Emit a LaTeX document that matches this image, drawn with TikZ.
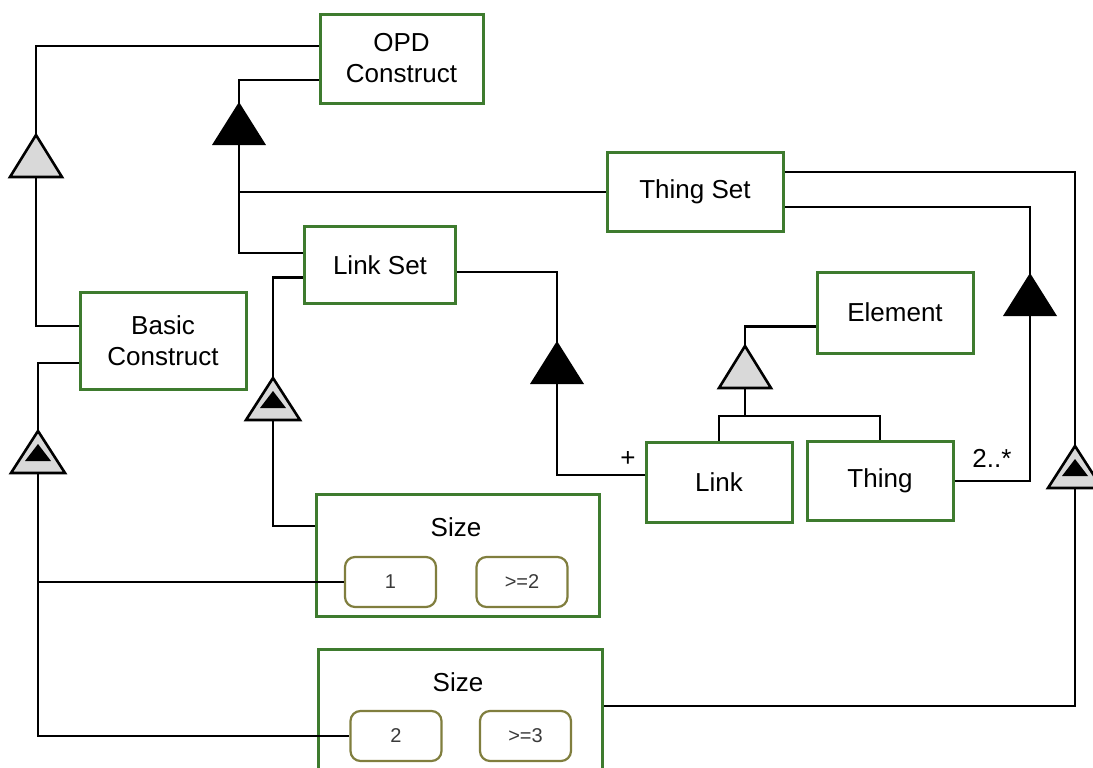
\documentclass[tikz,border=0pt]{standalone}
\usepackage{fontspec}
\setmainfont{Liberation Sans}
\usetikzlibrary{positioning, calc}
\definecolor{cgreen}{HTML}{3E7B2E}
\definecolor{colive}{HTML}{807E3E}
\definecolor{ctri}{HTML}{D9D9D9}
\definecolor{ctext}{HTML}{3A3A3A}
\tikzset{
  every picture/.style={line width=1.4pt},
  box/.style={draw=cgreen, fill=white, line width=1.5pt, align=center, inner sep=2pt, font=\fontsize{13}{15.5}\selectfont},
  valbox/.style={draw=colive, fill=white, rounded corners=5pt, line width=1.1pt, minimum width=45.5pt, minimum height=25pt, font=\fontsize{10}{12}\selectfont, text=ctext},
  wire/.style={draw=black, line width=1.4pt},
  note/.style={font=\fontsize{13}{15}\selectfont},
}

\begin{document}
\begin{tikzpicture}[x=0.5pt, y=-0.5pt]
  \newcommand{\gentri}[1]{% apex, grey triangle
    \filldraw[fill=ctri, draw=black, line width=1.3pt] (#1) -- ++(26,42) -- ++(-52,0) -- cycle;}
  \newcommand{\aggtri}[1]{% apex, black triangle
    \fill[black] (#1) -- ++(27,43) -- ++(-54,0) -- cycle;}
  \newcommand{\exhtri}[1]{% apex, grey triangle with black core
    \filldraw[fill=ctri, draw=black, line width=1.3pt] (#1) -- ++(27,42) -- ++(-54,0) -- cycle;
    \fill[black] (#1) ++(0,13) -- ++(13,17) -- ++(-26,0) -- cycle;}
  \useasboundingbox (0,0) rectangle (1093,767);

  % things
  \node[box, minimum width=81.5pt, minimum height=44.5pt] (opd) at (401.5,58.5) {OPD\\Construct};
  \node[box, minimum width=88pt, minimum height=39.5pt] (thingset) at (695,192) {Thing Set};
  \node[box, minimum width=75.5pt, minimum height=38.5pt] (linkset) at (380,265) {Link Set};
  \node[box, minimum width=83pt, minimum height=48.5pt] (basic) at (163,341) {Basic\\Construct};
  \node[box, minimum width=78pt, minimum height=40.5pt] (element) at (895,312.5) {Element};
  \node[box, minimum width=73pt, minimum height=40pt] (link) at (719,482) {Link};
  \node[box, minimum width=73pt, minimum height=39.5pt] (thing) at (880,481) {Thing};

  % size attributes
  \node[box, minimum width=141.5pt, minimum height=61pt] (sizeone) at (457.5,555) {};
  \node[box, minimum width=142pt, minimum height=61pt] (sizetwo) at (460,710) {};
  \node[font=\fontsize{13}{15}\selectfont] (sizeonelbl) at (456,527) {Size};
  \node[font=\fontsize{13}{15}\selectfont] (sizetwolbl) at (458,682) {Size};
  \node[valbox] (one) at (390.5,582) {1};
  \node[valbox] (geqtwo) at (522,582) {>=2};
  \node[valbox] (two) at (396,736) {2};
  \node[valbox] (geqthree) at (525.5,736) {>=3};

  % links
  \draw[wire] ([yshift=6.25pt]opd.west) -| (36,326) -- ([yshift=7.5pt]basic.west);
  \draw[wire] ([yshift=-10.75pt]opd.west) -| (239,253) -- ([yshift=6pt]linkset.west);
  \coordinate (jn) at (239,192);
  \draw[wire] (jn) -- (thingset.west);
  \draw[wire] ([yshift=-6.25pt]linkset.west) -| (273,526) -- ([yshift=14.5pt]sizeone.west);
  \draw[wire] ([yshift=-3.5pt]linkset.east) -| (557,475) -- ([yshift=3.5pt]link.west);
  \draw[wire] ([yshift=-11pt]basic.west) -| (38,736) -- (two.west);
  \draw[wire] (38,582) -- (one.west);
  \coordinate (gen) at (745,416);
  \draw[wire] ([yshift=-7pt]element.west) -| (gen);
  \draw[wire] (link.north) |- (gen) -| (thing.north);
  \draw[wire] (thing.east) -| (1030,207) -- ([yshift=-7.5pt]thingset.east);
  \draw[wire] ([yshift=10pt]thingset.east) -| (1075,706) -- ([yshift=2pt]sizetwo.east);

  \node[note] (plus) at (628,459) {+};
  \node[note] (mult) at (992,458) {2..*};

  % triangles
  \gentri{36,135}
  \gentri{745,346}
  \aggtri{239,102}
  \aggtri{557,341}
  \aggtri{1030,273}
  \exhtri{38,431}
  \exhtri{273,378}
  \exhtri{1075,446}
\end{tikzpicture}
\end{document}
